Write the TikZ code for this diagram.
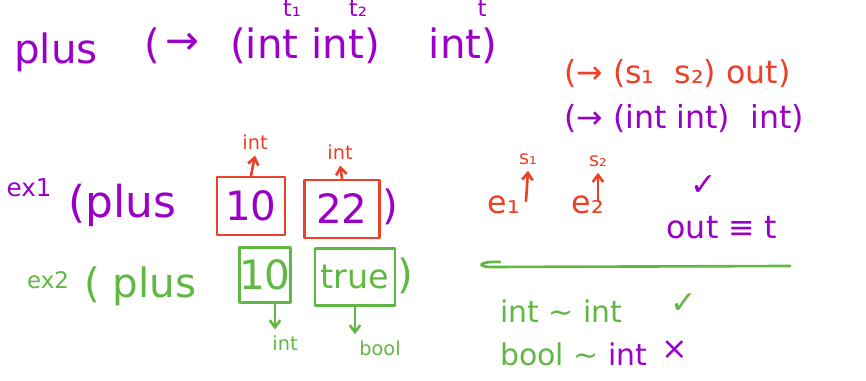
\documentclass[tikz,border=0pt]{standalone}
\usepackage{fontspec}
\setmainfont{DejaVu Sans}
\usetikzlibrary{arrows.meta,positioning}
\definecolor{inkpurple}{RGB}{155,0,200}
\definecolor{inkred}{RGB}{236,64,40}
\definecolor{inkgreen}{RGB}{96,184,66}
\tikzset{
  pen/.style={line width=1.5pt, line cap=round, line join=round},
  redpen/.style={pen, draw=inkred},
  greenpen/.style={pen, draw=inkgreen},
  tip/.style={-{Straight Barb[length=4pt,width=6pt]}},
  redbox/.style={redpen, rectangle, inner sep=0pt},
  greenbox/.style={greenpen, rectangle, inner sep=0pt},
  big/.style={font=\fontsize{23}{25}\selectfont},
  mid/.style={font=\fontsize{18}{20}\selectfont},
  small/.style={font=\fontsize{11}{12}\selectfont},
}
\begin{document}
\begin{tikzpicture}[x=0.02cm,y=-0.02cm]
  \useasboundingbox (0,0) rectangle (866,381);
  % signature of plus
  \node[big, text=inkpurple, anchor=west] (plus) at (8,52) {plus};
  \node[big, text=inkpurple] (open) at (152,46) {(};
  \node[big, text=inkpurple] (arrow) at (182,44) {→};
  \node[big, text=inkpurple] (args) at (305,46) {(int int)};
  \node[big, text=inkpurple] (res) at (463,46) {int)};
  \node[font=\fontsize{13}{14}\selectfont, text=inkpurple] (t1) at (292,8) {t₁};
  \node[font=\fontsize{13}{14}\selectfont, text=inkpurple] (t2) at (358,8) {t₂};
  \node[font=\fontsize{13}{14}\selectfont, text=inkpurple] (t) at (482,8) {t};
  % rule on the right
  \node[mid, text=inkred, anchor=west] (arrs) at (558,74) {(→ (s₁ \ s₂) out)};
  \node[mid, text=inkpurple, anchor=west] (arri) at (558,119) {(→ (int int) \ int)};
  % ex1
  \node[font=\fontsize{14}{15}\selectfont, text=inkpurple] (ex1) at (29,188) {ex1};
  \node[font=\fontsize{25}{27}\selectfont, text=inkpurple, anchor=west] (plus1) at (62,205) {(plus};
  \node[redbox, minimum width=1.36cm, minimum height=1.16cm, text=inkpurple, big] (a10) at (251,206) {10};
  \node[redbox, minimum width=1.5cm, minimum height=1.16cm, text=inkpurple, big] (a22) at (342,209) {22};
  \node[big, text=inkpurple, anchor=west] (close1) at (376,207) {)};
  \node[small, text=inkred] (a10ty) at (255,142) {int};
  \node[small, text=inkred] (a22ty) at (340,152) {int};
  \draw[redpen, tip] (a10.north) -- (a10ty.south);
  \draw[redpen, tip] (a22.north) -- (a22ty.south);
  % ex2
  \node[font=\fontsize{13}{14}\selectfont, text=inkgreen] (ex2) at (48,280) {ex2};
  \node[big, text=inkgreen, anchor=west] (plus2) at (78,286) {( plus};
  \node[greenbox, minimum width=1cm, minimum height=1.1cm, text=inkgreen, big] (b10) at (265,275) {10};
  \node[greenbox, minimum width=1.6cm, minimum height=1.14cm, text=inkgreen, font=\fontsize{19}{21}\selectfont] (btrue) at (355,277) {true};
  \node[big, text=inkgreen, anchor=west] (close2) at (391,276) {)};
  \node[small, text=inkgreen] (b10ty) at (285,343) {int};
  \node[small, text=inkgreen] (btruety) at (380,348) {bool};
  \draw[greenpen, tip] (b10.south) ++(10,0) coordinate (b10s) -- (b10s |- b10ty.north);
  \draw[greenpen, tip] (btrue.south) -- (btrue.south |- btruety.north);
  % premises
  \node[mid, text=inkred] (e1) at (504,205) {e₁};
  \node[mid, text=inkred] (e2) at (588,205) {e₂};
  \node[small, text=inkred] (s1) at (528,159) {s₁};
  \node[small, text=inkred] (s2) at (598,161) {s₂};
  \draw[redpen, tip] (526,201) -- (s1.south);
  \draw[redpen, tip] (598,201) -- (s2.south);
  \node[mid, text=inkpurple] (tick) at (704,186) {✓};
  \node[mid, text=inkpurple] (outt) at (722,228) {out ≡ t};
  % judgement line
  \draw[greenpen] (500,262) .. controls (482,261) and (474,266) .. (490,267) -- (790,266);
  \node[font=\fontsize{17}{19}\selectfont, text=inkgreen, anchor=west] (ok) at (494,311) {int ∼ int};
  \node[mid, text=inkgreen] (okmark) at (684,304) {✓};
  \node[font=\fontsize{17}{19}\selectfont, anchor=west] (bad) at (494,354) {\textcolor{inkgreen}{bool ∼} \textcolor{inkpurple}{int}};
  \node[mid, text=inkpurple] (badmark) at (675,350) {×};
\end{tikzpicture}
\end{document}
